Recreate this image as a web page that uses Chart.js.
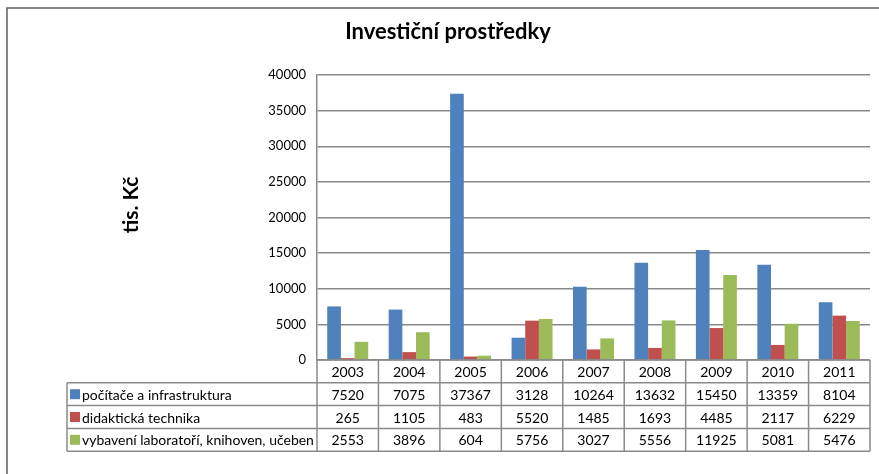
<!DOCTYPE html>
<html>
<head>
<meta charset="utf-8">
<script src="https://cdn.jsdelivr.net/npm/chart.js@4.4.0/dist/chart.umd.min.js"></script>
<style>
body { margin: 0; background: #fff; }
</style>
</head>
<body>
<canvas id="bar-chart" width="879" height="474"></canvas>
<script>
// data
const roky = ['2003', '2004', '2005', '2006', '2007', '2008', '2009', '2010', '2011'];
const pocitace = [7520, 7075, 37367, 3128, 10264, 13632, 15450, 13359, 8104];
const didakticka = [265, 1105, 483, 5520, 1485, 1693, 4485, 2117, 6229];
const vybaveni = [2553, 3896, 604, 5756, 3027, 5556, 11925, 5081, 5476];
const nazvy = ['počítače a infrastruktura', 'didaktická technika', 'vybavení laboratoří, knihoven, učeben'];
const barvy = ['#4F81BD', '#C0504D', '#9BBB59'];
const yMax = 40000;
const yKrok = 5000;
const yNazev = 'tis. Kč';

const pismo = 'Lato, "Open Sans", sans-serif';

// ramecek kolem celeho grafu + popis osy y
const ramecek = {
	id: 'ramecek',
	beforeDraw(chart) {
		const ctx = chart.ctx;
		ctx.save();
		ctx.strokeStyle = '#5f5f5f';
		ctx.lineWidth = 1.5;
		ctx.strokeRect(7, 8, 1000, 600);

		ctx.translate(131, 205);
		ctx.rotate(-Math.PI / 2);
		ctx.fillStyle = '#000';
		ctx.font = 'bold 21px ' + pismo;
		ctx.textAlign = 'center';
		ctx.textBaseline = 'middle';
		ctx.fillText(yNazev, 0, 0);
		ctx.restore();
	}
};

// tabulka dat pod grafem
const tabulka = {
	id: 'tabulka',
	afterDraw(chart) {
		const ctx = chart.ctx;
		const a = chart.chartArea;
		const x = chart.scales.x;
		const colW = (a.right - a.left) / roky.length;
		const rady = [pocitace, didakticka, vybaveni];
		const top = a.bottom;
		const hRow = 22.8;
		const leftCol = 67;

		ctx.save();
		ctx.strokeStyle = '#8a8a8a';
		ctx.lineWidth = 1.5;

		// horizontalni cary
		for (let r = 0; r <= 4; r++) {
			const y = top + r * hRow;
			ctx.beginPath();
			ctx.moveTo(r === 0 ? a.left : leftCol, y);
			ctx.lineTo(a.right, y);
			ctx.stroke();
		}
		// svisle cary
		for (let i = 0; i <= roky.length; i++) {
			const xx = a.left + i * colW;
			ctx.beginPath();
			ctx.moveTo(xx, top);
			ctx.lineTo(xx, top + 4 * hRow);
			ctx.stroke();
		}
		ctx.beginPath();
		ctx.moveTo(leftCol, top + hRow);
		ctx.lineTo(leftCol, top + 4 * hRow);
		ctx.stroke();

		ctx.fillStyle = '#000';
		ctx.font = '14px ' + pismo;
		ctx.textAlign = 'center';
		ctx.textBaseline = 'middle';
		roky.forEach((rok, i) => {
			const cx = x.getPixelForValue(i);
			ctx.fillText(rok, cx, top + hRow / 2 + 1);
			rady.forEach((rada, r) => {
				ctx.fillText(String(rada[i]), cx, top + (r + 1.5) * hRow + 1);
			});
		});

		ctx.textAlign = 'left';
		nazvy.forEach((n, r) => {
			const cy = top + (r + 1.5) * hRow;
			ctx.fillStyle = barvy[r];
			ctx.fillRect(leftCol + 3, cy - 5, 10, 10);
			ctx.fillStyle = '#000';
			ctx.fillText(n, leftCol + 15, cy + 1);
		});
		ctx.restore();
	}
};

new Chart(document.getElementById('bar-chart'), {
	type: 'bar',
	data: {
		labels: roky,
		datasets: [
			{ label: nazvy[0], data: pocitace, backgroundColor: barvy[0] },
			{ label: nazvy[1], data: didakticka, backgroundColor: barvy[1] },
			{ label: nazvy[2], data: vybaveni, backgroundColor: barvy[2] }
		]
	},
	options: {
		responsive: false,
		animation: false,
		devicePixelRatio: 1,
		layout: { padding: { left: 26, right: 9, top: 0, bottom: 114 } },
		datasets: { bar: { categoryPercentage: 0.667, barPercentage: 1 } },
		plugins: {
			legend: { display: false },
			tooltip: { enabled: false },
			title: {
				display: true,
				text: 'Investiční prostředky',
				color: '#000',
				font: { family: pismo, size: 22, weight: 'bold' },
				padding: { top: 19, bottom: 29.6 }
			}
		},
		scales: {
			x: {
				display: false
			},
			y: {
				min: 0,
				max: yMax,
				ticks: {
					stepSize: yKrok,
					color: '#000',
					padding: 11,
					font: { family: pismo, size: 13 },
					callback: (v) => String(v)
				},
				grid: { color: '#8a8a8a', lineWidth: 1.5, drawTicks: false },
				border: { color: '#8a8a8a', width: 1.5 },
				afterFit(s) { s.width = 291; }
			}
		}
	},
	plugins: [ramecek, tabulka]
});
</script>
</body>
</html>
